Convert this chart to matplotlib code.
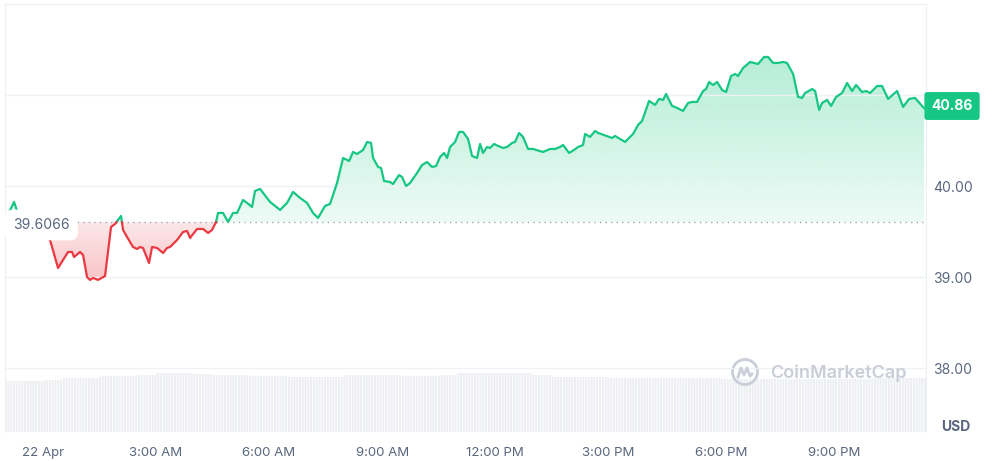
import numpy as np
import matplotlib
matplotlib.use("Agg")
import matplotlib.pyplot as plt
from matplotlib.patches import Circle
from matplotlib.lines import Line2D

plt.rcParams['font.family'] = ['Inter', 'DejaVu Sans']
plt.rcParams['hatch.linewidth'] = 0.6

# price series: hours since 22 Apr 00:00, price in USD
hours = [-1.009, -0.770, -0.611, -0.292, 0.027, 0.186, 0.398, 0.531, 0.664, 0.770,
         0.823, 0.982, 1.062, 1.168, 1.248, 1.327, 1.460, 1.646, 1.805, 1.912,
         2.071, 2.124, 2.230, 2.389, 2.496, 2.575, 2.655, 2.814, 2.894, 3.027,
         3.186, 3.292, 3.372, 3.558, 3.717, 3.823, 3.903, 4.088, 4.248, 4.381,
         4.487, 4.593, 4.646, 4.779, 4.912, 5.044, 5.150, 5.310, 5.416, 5.549,
         5.628, 5.761, 6.027, 6.292, 6.478, 6.637, 6.823, 7.009, 7.168, 7.301,
         7.487, 7.619, 7.805, 7.965, 8.124, 8.230, 8.336, 8.496, 8.602, 8.708,
         8.761, 8.894, 8.973, 9.053, 9.212, 9.292, 9.451, 9.531, 9.637, 9.743,
         9.929, 10.062, 10.195, 10.327, 10.434, 10.540, 10.646, 10.726, 10.805, 10.938,
         11.044, 11.150, 11.283, 11.389, 11.522, 11.602, 11.681, 11.788, 11.867, 11.973,
         12.080, 12.212, 12.319, 12.451, 12.531, 12.637, 12.743, 12.876, 13.009, 13.274,
         13.460, 13.593, 13.726, 13.805, 13.965, 14.097, 14.204, 14.336, 14.389, 14.522,
         14.655, 14.735, 15.106, 15.186, 15.451, 15.664, 15.796, 15.903, 16.088, 16.248,
         16.354, 16.460, 16.540, 16.699, 16.832, 16.991, 17.124, 17.230, 17.363, 17.522,
         17.602, 17.681, 17.788, 17.894, 18.027, 18.133, 18.265, 18.372, 18.451, 18.584,
         18.770, 18.982, 19.142, 19.248, 19.381, 19.513, 19.646, 19.752, 19.912, 20.044,
         20.150, 20.230, 20.416, 20.496, 20.602, 20.681, 20.814, 20.920, 21.053, 21.212,
         21.345, 21.478, 21.584, 21.743, 21.850, 21.956, 22.142, 22.274, 22.434, 22.673,
         22.832, 22.991, 23.150, 23.389]
prices = [39.621, 39.830, 39.632, 39.522, 39.456, 39.412, 39.104, 39.192, 39.280, 39.280,
          39.225, 39.280, 39.247, 39.005, 38.973, 38.995, 38.973, 39.016, 39.555, 39.588,
          39.676, 39.522, 39.445, 39.335, 39.313, 39.335, 39.324, 39.159, 39.335, 39.324,
          39.269, 39.324, 39.335, 39.412, 39.500, 39.511, 39.434, 39.533, 39.533, 39.489,
          39.522, 39.610, 39.709, 39.709, 39.610, 39.709, 39.709, 39.852, 39.819, 39.775,
          39.951, 39.973, 39.830, 39.742, 39.819, 39.940, 39.874, 39.819, 39.709, 39.654,
          39.786, 39.808, 40.038, 40.313, 40.280, 40.379, 40.357, 40.401, 40.489, 40.478,
          40.313, 40.214, 40.203, 40.060, 40.049, 40.027, 40.126, 40.104, 40.005, 40.038,
          40.148, 40.236, 40.269, 40.214, 40.225, 40.324, 40.368, 40.313, 40.434, 40.489,
          40.599, 40.599, 40.522, 40.335, 40.313, 40.467, 40.368, 40.434, 40.423, 40.467,
          40.445, 40.423, 40.434, 40.478, 40.489, 40.588, 40.544, 40.412, 40.412, 40.379,
          40.412, 40.412, 40.434, 40.456, 40.368, 40.401, 40.434, 40.456, 40.577, 40.544,
          40.610, 40.588, 40.533, 40.555, 40.489, 40.577, 40.676, 40.720, 40.940, 40.896,
          40.962, 40.951, 41.016, 40.885, 40.863, 40.830, 40.918, 40.929, 40.929, 41.049,
          41.071, 41.148, 41.115, 41.148, 41.060, 41.038, 41.214, 41.236, 41.214, 41.302,
          41.368, 41.346, 41.423, 41.423, 41.357, 41.357, 41.368, 41.357, 41.236, 40.984,
          40.973, 41.027, 41.071, 41.049, 40.841, 40.918, 40.951, 40.885, 40.984, 41.027,
          41.137, 41.049, 41.115, 41.038, 41.049, 41.027, 41.104, 41.104, 40.962, 41.049,
          40.874, 40.962, 40.973, 40.860]

# volume per 30 min (arbitrary units)
vol_start = [-1.0, -0.5, 0.0, 0.5, 1.0, 1.5, 2.0, 2.5, 3.0, 3.5, 4.0, 4.5, 5.0, 5.5,
             6.0, 6.5, 7.0, 7.5, 8.0, 8.5, 9.0, 9.5, 10.0, 10.5, 11.0, 11.5, 12.0,
             12.5, 13.0, 13.5, 14.0, 14.5, 15.0, 15.5, 16.0, 16.5, 17.0, 17.5, 18.0,
             18.5, 19.0, 19.5, 20.0, 20.5, 21.0, 21.5, 22.0, 22.5, 23.0]
volume = [51, 51, 52.5, 54, 54, 56, 56.5, 57.5, 58.7, 58.7, 58.5, 57, 57, 56.5,
          56, 54.7, 54.7, 55.5, 57, 57.3, 57, 56, 56, 57.5, 59, 59.3, 59,
          58.7, 57.5, 55.5, 55.3, 55, 54, 54, 54, 53.7, 53.7, 53.7, 53.3,
          52.7, 52.7, 52.7, 52.7, 53, 53, 53.5, 54, 54, 54]

open_price = 39.6066
last_price = 40.86
tick_hours = [0, 3, 6, 9, 12, 15, 18, 21]
tick_labels = ['22 Apr', '3:00 AM', '6:00 AM', '9:00 AM', '12:00 PM', '3:00 PM', '6:00 PM', '9:00 PM']

GREEN = '#16c784'
RED = '#ea3943'
GREY = '#58667e'
GRID = '#eff2f5'

t = np.array(hours)
p = np.array(prices)

# add crossing points so the colour switches exactly at the open price
tt, pp = [t[0]], [p[0]]
for i in range(1, len(t)):
    a, b = p[i - 1] - open_price, p[i] - open_price
    if a * b < 0:
        f = a / (a - b)
        tt.append(t[i - 1] + f * (t[i] - t[i - 1]))
        pp.append(open_price)
    tt.append(t[i])
    pp.append(p[i])
tt, pp = np.array(tt), np.array(pp)

fig = plt.figure(figsize=(9.92, 4.61), dpi=100)
rect = [5 / 992, 29 / 461, 921 / 992, 428 / 461]
xlim = (-1.01, 23.44)

# volume underneath
axv = fig.add_axes(rect, zorder=0)
axv.bar(vol_start, volume, width=0.5, align='edge', color='#eceef2',
        edgecolor='white', hatch='||||||', linewidth=0)
axv.set_xlim(*xlim)
axv.set_ylim(0, 428)
axv.axis('off')

ax = fig.add_axes(rect, zorder=1)
ax.set_facecolor('none')

# gradient fills clipped to the area between line and open price
def grad(y0, y1, a0, a1, color, clip_y):
    rgba = np.zeros((256, 1, 4))
    rgba[..., :3] = matplotlib.colors.to_rgb(color)
    rgba[:, 0, 3] = np.linspace(a0, a1, 256)
    im = ax.imshow(rgba, extent=[tt[0], tt[-1], y0, y1], origin='lower',
                   aspect='auto', zorder=1, interpolation='bilinear')
    verts = np.column_stack([np.r_[tt, tt[-1], tt[0]], np.r_[clip_y, open_price, open_price]])
    poly = plt.Polygon(verts, closed=True, transform=ax.transData, facecolor='none', edgecolor='none')
    ax.add_patch(poly)
    im.set_clip_path(poly)

grad(open_price, pp.max(), 0.08, 0.32, GREEN, np.maximum(pp, open_price))
grad(pp.min(), open_price, 0.30, 0.12, RED, np.minimum(pp, open_price))
ax.set_xlim(*xlim)
ax.set_ylim(37.302, 42.005)

ax.plot(tt, np.where(pp >= open_price, pp, np.nan), color=GREEN, lw=1.6, zorder=3,
        solid_joinstyle='round')
ax.plot(tt, np.where(pp <= open_price, pp, np.nan), color=RED, lw=1.6, zorder=3,
        solid_joinstyle='round')
ax.axhline(open_price, color='#a1a7b3', lw=1, linestyle=(0, (1, 3)), zorder=2)

ax.set_yticks([38, 39, 40, 41])
ax.set_yticklabels(['38.00', '39.00', '40.00', ''])
ax.yaxis.tick_right()
ax.tick_params(axis='y', length=0, pad=5, labelsize=10, labelcolor=GREY)
ax.set_xticks(tick_hours)
ax.set_xticklabels(tick_labels)
ax.tick_params(axis='x', length=0, pad=11, labelsize=9.5, labelcolor=GREY)
ax.grid(axis='y', color=GRID, lw=1, zorder=0)
ax.grid(axis='x', visible=False)
for s in ['top', 'left', 'right']:
    ax.spines[s].set_color('#eceff3')
ax.spines['bottom'].set_visible(False)

# open price label and last price label
fig.text(13 / 992, 1 - 225 / 461, f'{open_price:.4f}', fontsize=10, color=GREY,
         ha='left', va='center',
         bbox=dict(boxstyle='round,pad=0.6', facecolor='white', edgecolor='none'))
fig.text(952 / 992, 1 - 106 / 461, f'{last_price:.2f}', fontsize=10, color='white',
         fontweight='bold', ha='center', va='center',
         bbox=dict(boxstyle='round,pad=0.5,rounding_size=0.2', facecolor=GREEN, edgecolor='none'))
fig.text(956 / 992, 1 - 427 / 461, 'USD', fontsize=10, color=GREY, fontweight='bold',
         ha='center', va='center')

# watermark
wm = '#c9ced8'
fig.text(770 / 992, 1 - 373 / 461, 'CoinMarketCap', fontsize=13, color=wm,
         fontweight='semibold', ha='left', va='center')
fig.add_artist(Circle((7.45, 4.61 - 3.72), 0.125, transform=fig.dpi_scale_trans,
                      facecolor='none', edgecolor=wm, lw=2))
fig.add_artist(Line2D([7.38, 7.41, 7.44, 7.47, 7.50, 7.52], [0.84, 0.93, 0.86, 0.93, 0.85, 0.87],
                      transform=fig.dpi_scale_trans, color=wm, lw=2))

fig.savefig('out.png', dpi=100)
